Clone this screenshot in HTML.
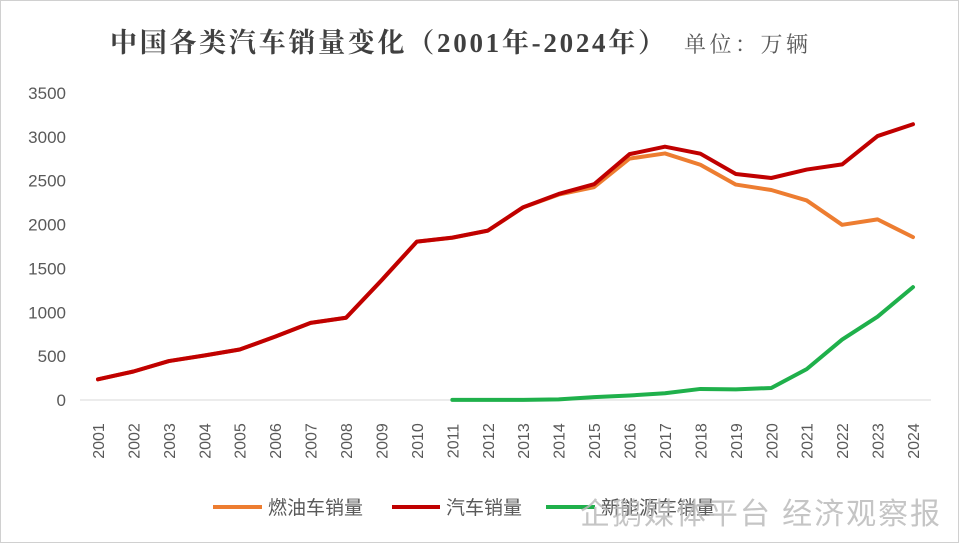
<!DOCTYPE html>
<html><head><meta charset="utf-8"><style>
body{margin:0;background:#fff;}
svg{display:block;font-family:"Liberation Sans","Noto Sans CJK SC",sans-serif;}
</style></head><body>
<svg id="chart" width="960" height="544" viewBox="0 0 960 544">
<rect x="0.5" y="0.5" width="958" height="542" fill="#fff" stroke="#d0d0d0"/>
<text x="110" y="52" font-size="27" font-weight="bold" fill="#404040" textLength="555" font-family="'Liberation Serif','Noto Serif CJK SC',serif">中国各类汽车销量变化（2001年-2024年）</text>
<text x="684" y="52" font-size="22" fill="#595959" textLength="124" font-family="'Noto Serif CJK SC',serif">单位：万辆</text>
<g id="yaxis"></g>
<g id="xaxis"></g>
<g id="series"></g>
<g>
<g><line x1="213" y1="507" x2="262" y2="507" stroke="#ED7D31" stroke-width="4"/><text x="268" y="514" font-size="19" fill="#595959">燃油车销量</text></g>
<g><line x1="392" y1="507" x2="440" y2="507" stroke="#C00000" stroke-width="4"/><text x="446" y="514" font-size="19" fill="#595959">汽车销量</text></g>
<g><line x1="546" y1="507" x2="595" y2="507" stroke="#1FB04B" stroke-width="4"/><text x="601" y="514" font-size="19" fill="#595959">新能源车销量</text></g>
</g>
<text x="580" y="524" font-size="30" fill="#bbb" fill-opacity="0.85" textLength="360">企鹅媒体平台 经济观察报</text>
</svg>
<script>
const years=[2001,2002,2003,2004,2005,2006,2007,2008,2009,2010,2011,2012,2013,2014,2015,2016,2017,2018,2019,2020,2021,2022,2023,2024];
const totalSales=[236,325,444,507,576,722,879,938,1364,1806,1851,1931,2198,2349,2460,2803,2888,2808,2577,2531,2627,2686,3009,3144];
const nevYears=[2011,2012,2013,2014,2015,2016,2017,2018,2019,2020,2021,2022,2023,2024];
const nevSales=[1,1,2,7,33,51,77,126,121,137,352,689,950,1287];
const fuelSales=[236,325,444,507,576,722,879,938,1364,1806,1850,1930,2196,2342,2427,2752,2811,2682,2456,2394,2275,1997,2059,1857];
const yTicks=[0,500,1000,1500,2000,2500,3000,3500];
const NS="http://www.w3.org/2000/svg";
const y=v=>400-v*307/3500;
const x=yr=>98+(yr-2001)*(815/23);
function mk(tag,attrs,parent){const e=document.createElementNS(NS,tag);for(const k in attrs)e.setAttribute(k,attrs[k]);parent.appendChild(e);return e;}
const ya=document.getElementById('yaxis'),xa=document.getElementById('xaxis'),se=document.getElementById('series');
yTicks.forEach(t=>{const e=mk('text',{x:66,y:y(t)+6,'text-anchor':'end','font-size':17,fill:'#595959'},ya);e.textContent=t;

});
const ax=mk('line',{x1:80,x2:931,y1:400,y2:400,stroke:'#d9d9d9'},xa);


years.forEach(yr=>{const e=mk('text',{transform:`translate(${x(yr)+6},441) rotate(-90)`,'text-anchor':'middle','font-size':16,fill:'#595959'},xa);e.textContent=yr;

});
function line(xs,vs,color,name){const p=mk('polyline',{points:xs.map((yr,i)=>x(yr)+','+y(vs[i])).join(' '),fill:'none',stroke:color,'stroke-width':4,'stroke-linejoin':'round','stroke-linecap':'round'},se);

}
line(years,fuelSales,'#ED7D31','fuel-line');
line(years,totalSales,'#C00000','total-line');
line(nevYears,nevSales,'#1FB04B','nev-line');
</script>
</body></html>
